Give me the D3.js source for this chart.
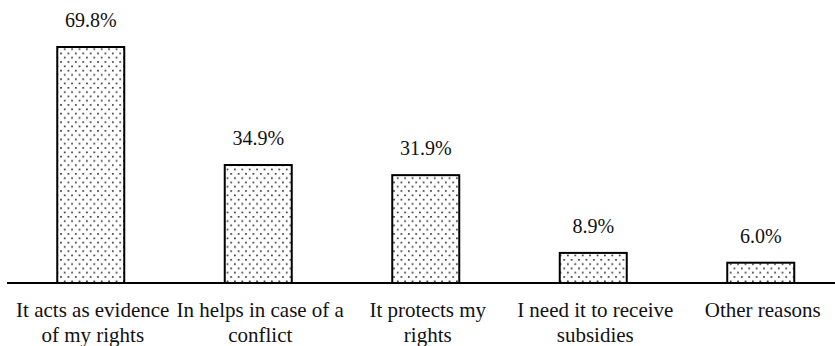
<!DOCTYPE html>
<html>
<head>
<meta charset="utf-8">
<script src="https://cdn.jsdelivr.net/npm/d3@7"></script>
<style>
  html, body { margin: 0; padding: 0; background: #fff; }
  svg { display: block; }
  text { font-family: "Liberation Serif", "DejaVu Serif", serif; fill: #111; }
</style>
</head>
<body>
<svg id="chart" width="835" height="346"></svg>
<script>
// Reasons for holding the document, share of respondents (%)
const categoryLines = [
  ["It acts as evidence", "of my rights"],
  ["In helps in case of a", "conflict"],
  ["It protects my", "rights"],
  ["I need it to receive", "subsidies"],
  ["Other reasons"]
];
const categories = categoryLines.map(l => l.join(" "));
const values = [69.8, 34.9, 31.9, 8.9, 6.0];
const valueLabels = ["69.8%", "34.9%", "31.9%", "8.9%", "6.0%"];

const width = 835, height = 346;
const baseY = 283;
const svg = d3.select("#chart");

const x = d3.scaleBand()
  .domain(categories)
  .range([7, 844.5])
  .paddingInner(0.6)
  .paddingOuter(0.3);

const y = d3.scaleLinear()
  .domain([0, 80])
  .range([baseY, baseY - 80 * 3.381]);

// dotted fill
const defs = svg.append("defs");
const pat = defs.append("pattern")
  .attr("id", "dots")
  .attr("patternUnits", "userSpaceOnUse")
  .attr("width", 7.4)
  .attr("height", 8.6);
pat.append("rect").attr("width", 7.4).attr("height", 8.6).attr("fill", "#fff");
pat.append("rect").attr("x", 1).attr("y", 1).attr("width", 1.6).attr("height", 1.6).attr("fill", "#222");
pat.append("rect").attr("x", 4.7).attr("y", 5.3).attr("width", 1.6).attr("height", 1.6).attr("fill", "#222");

const data = categories.map((c, i) => ({ c, v: values[i], label: valueLabels[i], lines: categoryLines[i] }));

svg.append("g").selectAll("rect")
  .data(data)
  .join("rect")
  .attr("x", d => x(d.c))
  .attr("y", d => y(d.v))
  .attr("width", x.bandwidth())
  .attr("height", d => y(0) - y(d.v))
  .attr("fill", "url(#dots)")
  .attr("stroke", "#000")
  .attr("stroke-width", 2);

// value labels
svg.append("g").selectAll("text")
  .data(data)
  .join("text")
  .attr("x", d => x(d.c) + x.bandwidth() / 2)
  .attr("y", d => y(d.v) - 20)
  .attr("text-anchor", "middle")
  .attr("font-size", 20)
  .text(d => d.label);

// baseline axis
const axis = d3.axisBottom(x).tickSize(0).tickPadding(0);
const gx = svg.append("g").attr("transform", `translate(0,${baseY})`).call(axis);
gx.select(".domain").remove();
gx.append("line")
  .attr("x1", 7).attr("x2", width)
  .attr("y1", 0).attr("y2", 0)
  .attr("stroke", "#000").attr("stroke-width", 2);

// category labels, split onto lines
gx.selectAll(".tick text")
  .attr("font-size", 21)
  .attr("font-family", "Liberation Serif, serif")
  .attr("fill", "#111")
  .attr("dy", null)
  .each(function(d, i) {
    const t = d3.select(this);
    t.text(null);
    categoryLines[i].forEach((ln, k) => {
      t.append("tspan").attr("x", 2).attr("y", 34 + k * 25).text(ln);
    });
  });
</script>
</body>
</html>
